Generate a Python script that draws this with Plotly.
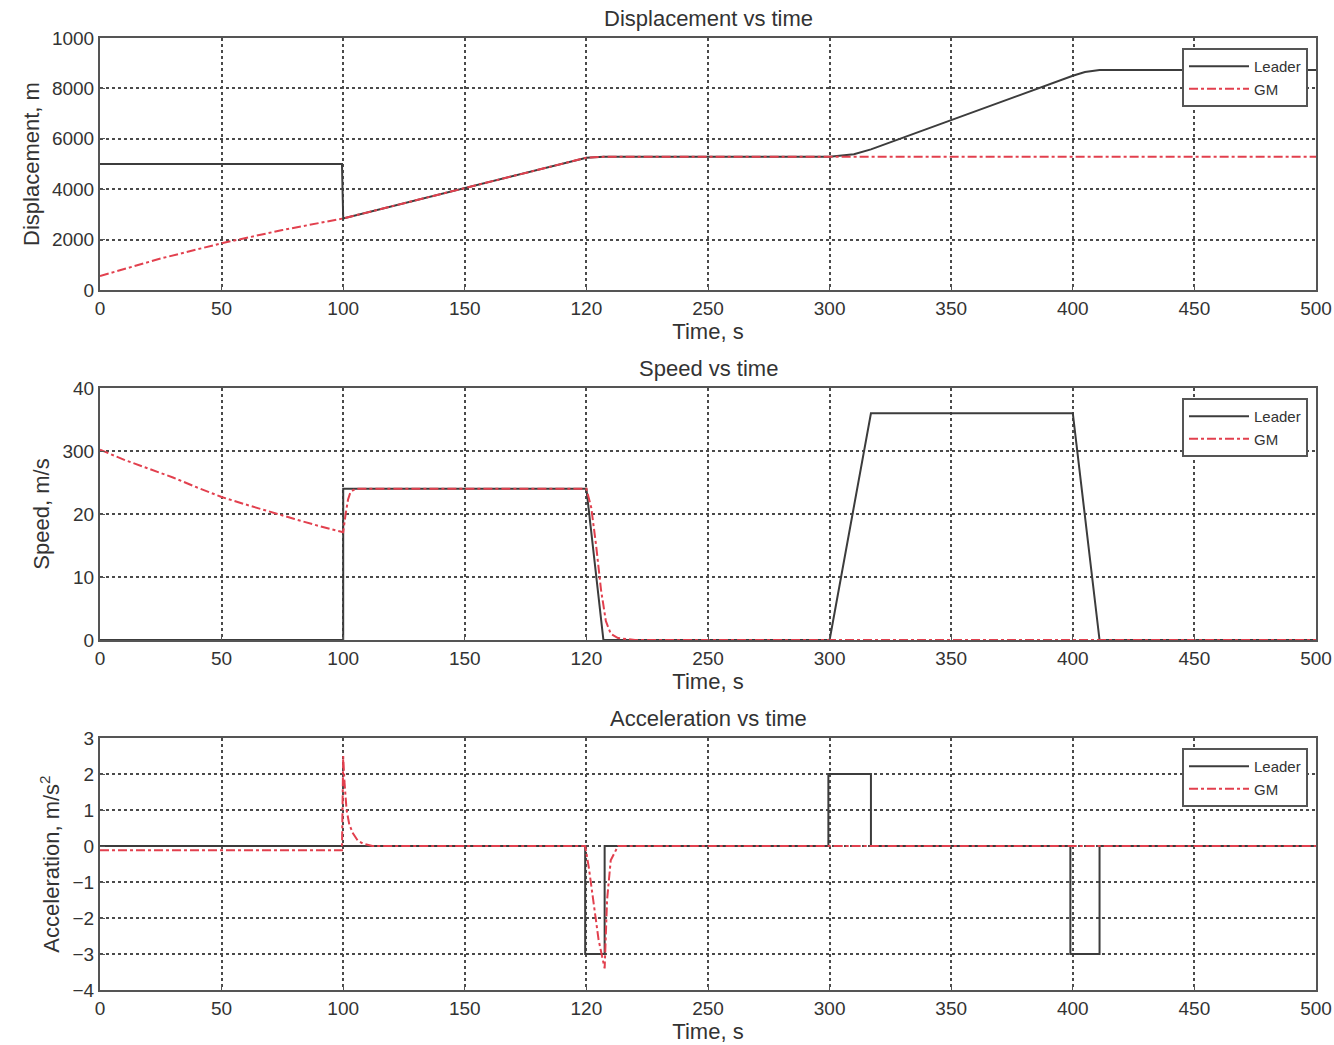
import plotly.graph_objects as go

# ---------------- data ----------------
# Displacement (m)
disp_leader_t = [0, 99.5, 100, 200, 207, 300, 310, 317, 400, 405, 411, 500]
disp_leader_v = [5000, 5000, 2840, 5250, 5290, 5290, 5390, 5580, 8500, 8650, 8730, 8730]
disp_gm_t = [0, 25, 50, 75, 100, 200, 207, 212, 500]
disp_gm_v = [555, 1250, 1855, 2380, 2840, 5250, 5285, 5290, 5290]

# Speed (m/s)
speed_leader_t = [0, 100, 100, 200, 207, 300, 317, 400, 411, 500]
speed_leader_v = [0, 0, 24, 24, 0, 0, 36, 36, 0, 0]
speed_gm_t = [0, 10, 20, 30, 40, 50, 60, 70, 80, 90, 100, 101, 102, 103, 105, 200, 202, 204, 206, 208, 210, 213, 220, 500]
speed_gm_v = [30.2, 28.6, 27.2, 25.8, 24.2, 22.7, 21.5, 20.3, 19.2, 18.1, 17.1, 20.0, 22.3, 23.5, 24.0, 24.0, 21.0, 15.0, 8.0, 3.0, 1.0, 0.3, 0.0, 0.0]

# Acceleration (m/s^2)
acc_leader_t = [0, 199.5, 199.5, 207.5, 207.5, 299.5, 299.5, 317, 317, 399, 399, 411, 411, 500]
acc_leader_v = [0, 0, -3, -3, 0, 0, 2, 2, 0, 0, -3, -3, 0, 0]
acc_gm_t = [0, 99.5, 100, 100.5, 101.4, 102.5, 104, 106, 108, 112, 199.5, 201, 203, 205, 207.5, 208.5, 210, 213, 500]
acc_gm_v = [-0.12, -0.12, 2.5, 1.8, 1.0, 0.6, 0.35, 0.15, 0.07, 0.0, 0.0, -0.6, -1.6, -2.6, -3.4, -1.5, -0.4, 0.0, 0.0]

# tick labels (as printed in the figure)
x_tickvals = [0, 50, 100, 150, 200, 250, 300, 350, 400, 450, 500]
x_ticktext = ["0", "50", "100", "150", "120", "250", "300", "350", "400", "450", "500"]
disp_tickvals = [0, 2000, 4000, 6000, 8000, 10000]
disp_ticktext = ["0", "2000", "4000", "6000", "8000", "1000"]
speed_tickvals = [0, 10, 20, 30, 40]
speed_ticktext = ["0", "10", "20", "300", "40"]
acc_tickvals = [-4, -3, -2, -1, 0, 1, 2, 3]
acc_ticktext = ["\u22124", "\u22123", "\u22122", "\u22121", "0", "1", "2", "3"]

titles = ["Displacement vs time", "Speed vs time", "Acceleration vs time"]
ytitles = ["Displacement, m", "Speed, m/s", "Acceleration, m/s<sup>2</sup>"]

# ---------------- styling ----------------
W, H = 1334, 1045
FONT = "Liberation Sans, Arial, sans-serif"
TXT = "#333333"
LEADER_C = "#3c3c3c"
GM_C = "#e2404e"

x0, x1 = 100 / W, 1316 / W
rows_px = [(38, 290), (388, 640), (738, 990)]
doms = [[1 - b / H, 1 - t / H] for t, b in rows_px]

fig = go.Figure()

series = [
    (disp_leader_t, disp_leader_v, disp_gm_t, disp_gm_v),
    (speed_leader_t, speed_leader_v, speed_gm_t, speed_gm_v),
    (acc_leader_t, acc_leader_v, acc_gm_t, acc_gm_v),
]
legend_names = ["legend", "legend2", "legend3"]

for i, (lt, lv, gt, gv) in enumerate(series):
    sfx = "" if i == 0 else str(i + 1)
    fig.add_trace(go.Scatter(x=lt, y=lv, mode="lines", name="Leader",
                             line=dict(color=LEADER_C, width=2),
                             xaxis="x" + sfx, yaxis="y" + sfx, legend=legend_names[i]))
    fig.add_trace(go.Scatter(x=gt, y=gv, mode="lines", name="GM",
                             line=dict(color=GM_C, width=2, dash="dashdot"),
                             xaxis="x" + sfx, yaxis="y" + sfx, legend=legend_names[i]))

yranges = [[0, 10000], [0, 40], [-4, 3]]
ytv = [disp_tickvals, speed_tickvals, acc_tickvals]
ytt = [disp_ticktext, speed_ticktext, acc_ticktext]
ystand = [6, 7, 7]

layout = dict(
    width=W, height=H,
    margin=dict(l=0, r=0, t=0, b=0, autoexpand=False),
    paper_bgcolor="white", plot_bgcolor="white",
    font=dict(family=FONT, color=TXT, size=19),
    annotations=[],
)

common_axis = dict(
    showline=True, mirror=True, linecolor="#555555", linewidth=2,
    showgrid=True, gridcolor="#4a4a4a", griddash="dot", gridwidth=1.5,
    zeroline=False, ticks="inside", ticklen=5, tickcolor="#555555",
    tickfont=dict(family=FONT, size=19, color=TXT), automargin=False,
)

for i in range(3):
    sfx = "" if i == 0 else str(i + 1)
    layout["xaxis" + sfx] = dict(
        common_axis, domain=[x0, x1], anchor="y" + sfx, range=[0, 500],
        tickmode="array", tickvals=x_tickvals, ticktext=x_ticktext,
        title=dict(text="Time, s", font=dict(size=22, family=FONT, color=TXT), standoff=6),
    )
    layout["yaxis" + sfx] = dict(
        common_axis, domain=doms[i], anchor="x" + sfx, range=yranges[i],
        tickmode="array", tickvals=ytv[i], ticktext=ytt[i],
        title=dict(text=ytitles[i], font=dict(size=22, family=FONT, color=TXT), standoff=ystand[i]),
    )
    layout["annotations"].append(dict(
        text=titles[i], xref="paper", yref="paper",
        x=(x0 + x1) / 2, y=doms[i][1], xanchor="center", yanchor="bottom", yshift=5,
        showarrow=False, font=dict(size=22, family=FONT, color=TXT),
    ))
    layout[legend_names[i]] = dict(
        x=1308 / W, xanchor="right", y=doms[i][1] - 10 / H, yanchor="top",
        bgcolor="white", bordercolor="#555555", borderwidth=2,
        font=dict(size=15, family=FONT, color=TXT),
        tracegroupgap=0, itemwidth=60,
    )

fig.update_layout(**layout)
fig.write_html("out.html")
